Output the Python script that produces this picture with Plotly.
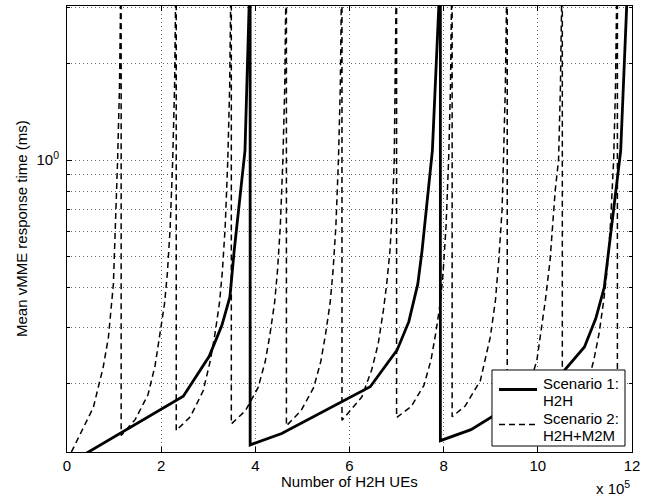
import plotly.graph_objects as go

# Scenario 1: H2H (solid)  -- x in units of 1e5 UEs, y in ms
s1_x = [0.0, 2.47, 3.02, 3.29, 3.46, 3.55, 3.78, 3.87, 3.89,
        3.89, 4.56, 6.44, 7.01, 7.26, 7.45, 7.54, 7.76, 7.90, 7.93,
        7.93, 8.58, 10.50, 10.99, 11.23, 11.41, 11.50, 11.76, 11.89, 11.93]
s1_y = [0.112, 0.183, 0.244, 0.305, 0.374, 0.52, 1.07, 3.1, 50,
        0.129, 0.140, 0.196, 0.255, 0.313, 0.41, 0.52, 1.07, 3.1, 50,
        0.133, 0.144, 0.215, 0.261, 0.32, 0.40, 0.52, 1.07, 3.1, 50]

# Scenario 2: H2H+M2M (dashed)
s2_x = [0.0, 0.56, 0.77, 0.88, 0.985, 1.03, 1.075, 1.115, 1.14, 1.15,
        1.15, 1.45, 1.72, 1.87, 1.97, 2.07, 2.13, 2.19, 2.245, 2.285, 2.308, 2.32,
        2.32, 2.62, 2.89, 3.04, 3.14, 3.24, 3.30, 3.36, 3.415, 3.455, 3.478, 3.49,
        3.49, 3.79, 4.06, 4.21, 4.31, 4.41, 4.47, 4.53, 4.585, 4.625, 4.648, 4.66,
        4.66, 4.97, 5.24, 5.39, 5.49, 5.59, 5.65, 5.71, 5.765, 5.805, 5.828, 5.84,
        5.84, 6.26, 6.47, 6.61, 6.72, 6.79, 6.86, 6.91, 6.95, 6.975, 6.99, 7.00,
        7.00, 7.31, 7.58, 7.73, 7.83, 7.93, 7.99, 8.05, 8.105, 8.145, 8.168, 8.18,
        8.18, 8.46, 8.78, 8.99, 9.10, 9.17, 9.24, 9.27, 9.31, 9.338, 9.35,
        9.35, 9.65, 9.85, 9.98, 10.16, 10.26, 10.37, 10.44, 10.48, 10.508, 10.52,
        10.52, 10.82, 11.06, 11.19, 11.30, 11.40, 11.47, 11.54, 11.61, 11.65, 11.675, 11.69,
        11.69]
s2_y = [0.115, 0.169, 0.226, 0.28, 0.41, 0.6, 1.0, 1.7, 3.3, 50,
        0.138, 0.155, 0.185, 0.228, 0.28, 0.355, 0.44, 0.61, 1.0, 1.7, 3.3, 50,
        0.143, 0.158, 0.19, 0.235, 0.285, 0.36, 0.45, 0.62, 1.0, 1.7, 3.3, 50,
        0.150, 0.165, 0.195, 0.235, 0.285, 0.36, 0.45, 0.62, 1.0, 1.7, 3.3, 50,
        0.148, 0.165, 0.195, 0.235, 0.285, 0.36, 0.45, 0.62, 1.0, 1.7, 3.3, 50,
        0.154, 0.182, 0.221, 0.267, 0.34, 0.41, 0.523, 0.698, 1.0, 1.7, 3.3, 50,
        0.157, 0.17, 0.198, 0.237, 0.287, 0.36, 0.45, 0.62, 1.0, 1.7, 3.3, 50,
        0.158, 0.171, 0.205, 0.28, 0.365, 0.487, 0.698, 1.0, 1.7, 3.3, 50,
        0.16, 0.175, 0.205, 0.237, 0.365, 0.487, 0.806, 1.0, 1.7, 3.3, 50,
        0.161, 0.175, 0.2, 0.238, 0.287, 0.365, 0.45, 0.62, 1.0, 1.7, 3.3, 50,
        0.162]

series_names = ["Scenario 1:", "H2H", "Scenario 2:", "H2H+M2M"]

x_ticks = [0, 2, 4, 6, 8, 10, 12]
x_tick_text = ["0", "2", "4", "6", "8", "10", "12"]
y_major = [1]
y_major_text = ["10<sup>0</sup>"]
y_minor = [0.2, 0.3, 0.4, 0.5, 0.6, 0.7, 0.8, 0.9, 2, 3]

FONT = "Liberation Sans, Arial, Helvetica, sans-serif"
GRID = "#666666"
DOT = "1px,3px"
SOLID_W = 2.8
DASH_W = 1.5
DASH = "6px,4px"

fig = go.Figure()
fig.add_trace(go.Scatter(x=s1_x, y=s1_y, mode="lines",
                         name=series_names[0] + " " + series_names[1],
                         line=dict(color="black", width=SOLID_W)))
fig.add_trace(go.Scatter(x=s2_x, y=s2_y, mode="lines",
                         name=series_names[2] + " " + series_names[3],
                         line=dict(color="black", width=DASH_W, dash=DASH)))

# legend box (drawn to match the original's compact two-line entries)
lg_x0, lg_x1, lg_y0, lg_y1 = 0.7522, 0.9876, 0.01345, 0.18386
smp_x0, smp_x1 = 0.7646, 0.8319
txt_x = 0.8381
shapes = [
    dict(type="rect", xref="paper", yref="paper", x0=lg_x0, x1=lg_x1, y0=lg_y0, y1=lg_y1,
         line=dict(color="black", width=1), fillcolor="white", layer="above"),
    dict(type="line", xref="paper", yref="paper", x0=smp_x0, x1=smp_x1, y0=0.1401, y1=0.1401,
         line=dict(color="black", width=SOLID_W), layer="above"),
    dict(type="line", xref="paper", yref="paper", x0=smp_x0, x1=smp_x1, y0=0.0617, y1=0.0617,
         line=dict(color="black", width=DASH_W, dash=DASH), layer="above"),
]
legend_text_y = [0.1540, 0.1155, 0.0744, 0.0363]
annotations = [
    dict(text="Number of H2H UEs", xref="paper", yref="paper", x=0.5, y=-0.0666,
         xanchor="center", yanchor="middle", showarrow=False, font=dict(size=15)),
    dict(text="Mean vMME response time (ms)", xref="paper", yref="paper",
         x=-0.0814, y=0.5, xanchor="center", yanchor="middle", textangle=-90,
         showarrow=False, font=dict(size=15)),
    dict(text="x 10<sup>5</sup>", xref="paper", yref="paper", x=1.0, y=-0.0807,
         xanchor="right", yanchor="middle", showarrow=False, font=dict(size=15)),
]
for t, ty in zip(series_names, legend_text_y):
    annotations.append(dict(text=t, xref="paper", yref="paper", x=txt_x, y=ty,
                            xanchor="left", yanchor="middle", showarrow=False,
                            font=dict(size=15)))

fig.update_layout(
    width=665, height=497,
    margin=dict(l=67, r=33, t=6, b=45),
    paper_bgcolor="white", plot_bgcolor="white",
    font=dict(family=FONT, size=15, color="black"),
    showlegend=False,
    xaxis=dict(range=[0, 12], tickmode="array", tickvals=x_ticks, ticktext=x_tick_text,
               ticks="inside", ticklen=5, tickcolor="black", automargin=False,
               showline=True, linecolor="black", linewidth=1, mirror="ticks",
               showgrid=True, gridcolor=GRID, griddash=DOT, gridwidth=1,
               zeroline=False, tickfont=dict(size=15)),
    yaxis=dict(type="log", range=[-0.9115, 0.4814], tickmode="array",
               tickvals=y_major, ticktext=y_major_text, automargin=False,
               ticks="inside", ticklen=5, tickcolor="black", ticklabelstandoff=4,
               showline=True, linecolor="black", linewidth=1, mirror="ticks",
               showgrid=True, gridcolor=GRID, griddash=DOT, gridwidth=1,
               zeroline=False, tickfont=dict(size=15),
               minor=dict(tickmode="array", tickvals=y_minor, ticks="inside",
                          ticklen=3, tickcolor="black", showgrid=True,
                          gridcolor=GRID, griddash=DOT, gridwidth=1)),
    shapes=shapes,
    annotations=annotations,
)

fig.write_html("out.html", config={"displayModeBar": False},
               post_script="document.body.style.margin='0';document.body.style.padding='0';")
